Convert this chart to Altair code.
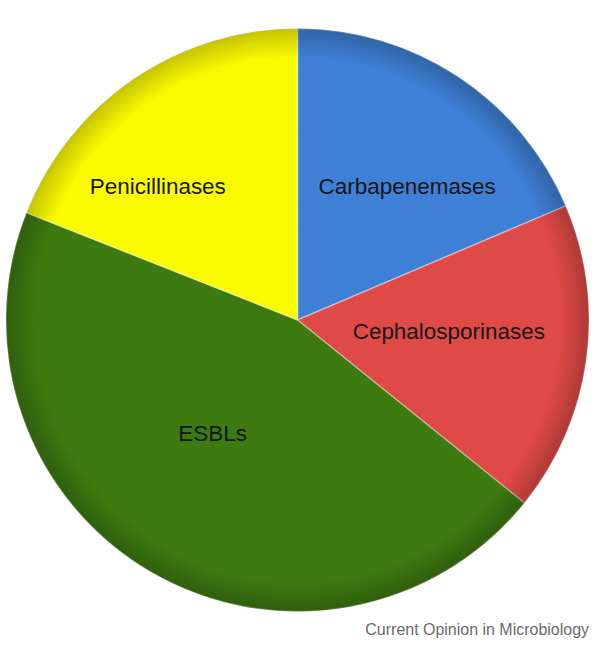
import math
import altair as alt
import pandas as pd

# Beta-lactamase classes, clockwise from 12 o'clock
categories = ["Carbapenemases", "Cephalosporinases", "ESBLs", "Penicillinases"]
shares = [18.6, 17.2, 45.2, 19.0]
slice_colors = ["#3e80d6", "#e04a46", "#3d7a10", "#fbfb00"]
credit = "Current Opinion in Microbiology"

R = 292
FULL = 2 * math.pi

df = pd.DataFrame({"category": categories, "share": shares, "idx": range(len(categories))})

theta_scale = alt.Scale(domain=[0, sum(shares)], range=[0, FULL])
color_scale = alt.Scale(domain=categories, range=slice_colors)

base = alt.Chart(df)

slices = base.mark_arc(
    outerRadius=R, stroke="white", strokeOpacity=0.35, strokeWidth=1.5
).encode(
    theta=alt.Theta("share:Q", stack=True, scale=theta_scale),
    color=alt.Color("category:N", scale=color_scale, legend=None),
    order=alt.Order("idx:Q"),
)

# soft darkening toward the rim for a rounded look
rim = alt.Chart(pd.DataFrame({"k": [0]})).mark_arc(
    outerRadius=R,
    fill=alt.RadialGradient(
        gradient="radial",
        stops=[
            alt.GradientStop(color="rgba(0,0,0,0)", offset=0),
            alt.GradientStop(color="rgba(0,0,0,0)", offset=0.9),
            alt.GradientStop(color="rgba(0,0,0,0.22)", offset=1),
        ],
        x1=0.5, y1=0.5, r1=0, x2=0.5, y2=0.5, r2=0.5,
    ),
).encode(theta=alt.value(0), theta2=alt.value(FULL))

# label placement: radius from centre and nudge in pixels
label_layout = {
    "Carbapenemases": (172, 15, 10),
    "Cephalosporinases": (153, 0, -9),
    "ESBLs": (143, -13, -9),
    "Penicillinases": (192, -32, 26),
}

labelled = base.transform_window(
    cum="sum(share)", sort=[alt.SortField("idx")]
).transform_calculate(mid="datum.cum - datum.share / 2")

label_layers = []
for cat, (r, dx, dy) in label_layout.items():
    label_layers.append(
        labelled.transform_filter(alt.datum.category == cat)
        .mark_text(radius=r, dx=dx, dy=dy, font="Liberation Sans", fontSize=22.5,
                   color="#161616", align="center", baseline="middle")
        .encode(
            theta=alt.Theta("mid:Q", scale=theta_scale),
            text="category:N",
        )
    )

credit_text = alt.Chart(pd.DataFrame({"t": [credit]})).mark_text(
    font="Liberation Sans", fontSize=16, color="#6a6a6a", align="right", baseline="alphabetic"
).encode(text="t:N", x=alt.value(590), y=alt.value(636))

chart = alt.layer(slices, rim, *label_layers, credit_text).properties(
    width=596, height=640, autosize=alt.AutoSizeParams(type="none"), padding=0
).configure_view(strokeWidth=0)

chart.save("out.html", embed_options={"renderer": "svg", "actions": False})
